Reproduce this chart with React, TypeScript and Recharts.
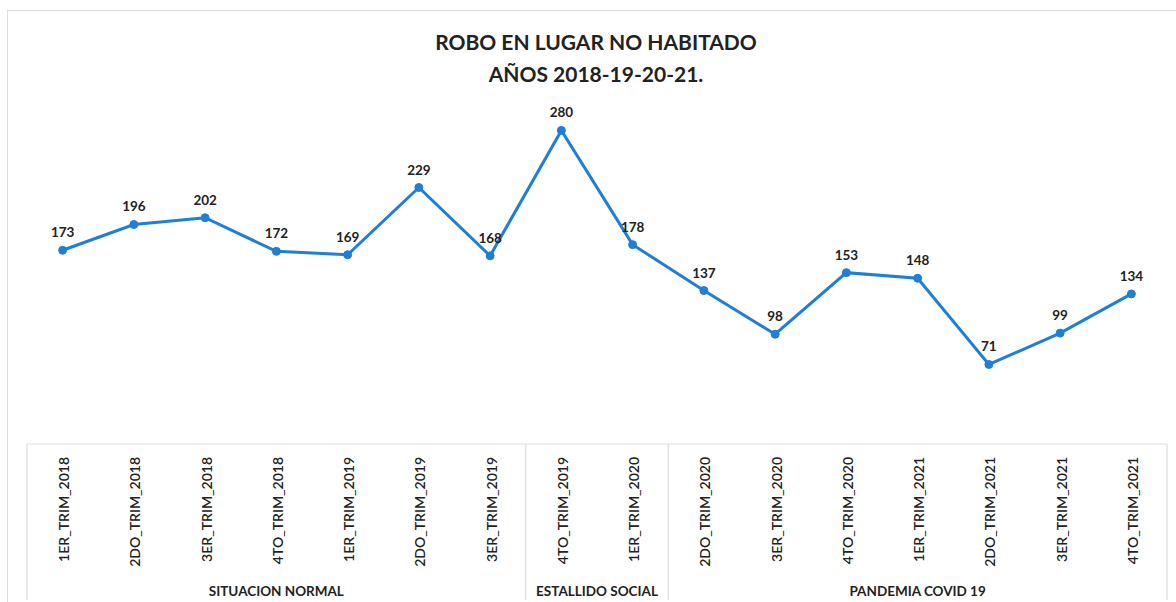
import React from "react";
import { LineChart, Line, XAxis, YAxis, LabelList } from "recharts";

const categories = [
  "1ER_TRIM_2018", "2DO_TRIM_2018", "3ER_TRIM_2018", "4TO_TRIM_2018",
  "1ER_TRIM_2019", "2DO_TRIM_2019", "3ER_TRIM_2019", "4TO_TRIM_2019",
  "1ER_TRIM_2020", "2DO_TRIM_2020", "3ER_TRIM_2020", "4TO_TRIM_2020",
  "1ER_TRIM_2021", "2DO_TRIM_2021", "3ER_TRIM_2021", "4TO_TRIM_2021",
];
const values = [173, 196, 202, 172, 169, 229, 168, 280, 178, 137, 98, 153, 148, 71, 99, 134];
const groups = [
  { label: "SITUACION NORMAL", start: 0, end: 6 },
  { label: "ESTALLIDO SOCIAL", start: 7, end: 8 },
  { label: "PANDEMIA COVID 19", start: 9, end: 15 },
];

const data = categories.map((c, i) => ({ name: c, value: values[i] }));

const W = 1176;
const H = 602;
const AXIS_H = 158;
const M = { top: 108, right: 9, left: 27, bottom: 0 };
const PLOT_W = W - M.left - M.right;
const STEP = PLOT_W / categories.length;
const AXIS_Y = H - AXIS_H;
const BOX_BOTTOM = 600;
const LINE_COLOR = "#1f7fd6";
const BORDER = "#d9dde3";
const FONT = "Lato, 'Open Sans', sans-serif";

const Tick = (props: any) => {
  const { x, payload } = props;
  const index = props.index ?? payload.index;
  const half = STEP / 2;
  const els: React.ReactNode[] = [];
  els.push(
    <text
      key="t"
      x={0}
      y={0}
      transform={`translate(${x + 1},${AXIS_Y + 13}) rotate(-90)`}
      textAnchor="end"
      dominantBaseline="central"
      fontFamily={FONT}
      fontSize={14}
      fontWeight={600}
      fill="#222"
    >
      {payload.value}
    </text>
  );
  groups.forEach((g, gi) => {
    if (g.start === index) {
      els.push(
        <line key={`l${gi}`} x1={x - half} x2={x - half} y1={AXIS_Y} y2={BOX_BOTTOM} stroke={BORDER} strokeWidth={1.2} />
      );
      els.push(
        <text
          key={`g${gi}`}
          x={x + ((g.end - g.start) * STEP) / 2}
          y={AXIS_Y + 152}
          textAnchor="middle"
          fontFamily={FONT}
          fontSize={13.5}
          fontWeight={700}
          fill="#222"
        >
          {g.label}
        </text>
      );
    }
    if (g.end === index && index === categories.length - 1) {
      els.push(
        <line key={`r${gi}`} x1={x + half} x2={x + half} y1={AXIS_Y} y2={BOX_BOTTOM} stroke={BORDER} strokeWidth={1.2} />
      );
    }
  });
  return <g>{els}</g>;
};

export default function App() {
  return (
    <div style={{ position: "absolute", left: 0, top: 0, width: W, height: H, background: "#fff" }}>
      <div
        style={{
          position: "absolute",
          left: 7,
          top: 10,
          width: W - 7,
          height: H - 10,
          border: `1px solid ${BORDER}`,
          borderRight: "none",
          borderBottom: "none",
          boxSizing: "border-box",
        }}
      />
      <LineChart width={W} height={H} data={data} margin={M} style={{ position: "absolute", left: 0, top: 0 }}>
        <text x={596} y={50} textAnchor="middle" fontFamily={FONT} fontSize={21} fontWeight={700} fill="#222">
          ROBO EN LUGAR NO HABITADO
        </text>
        <text x={596} y={82} textAnchor="middle" fontFamily={FONT} fontSize={21} fontWeight={700} fill="#222">
          AÑOS 2018-19-20-21.
        </text>
        <XAxis
          dataKey="name"
          interval={0}
          height={AXIS_H}
          padding={{ left: STEP / 2, right: STEP / 2 }}
          tickLine={false}
          axisLine={{ stroke: BORDER, strokeWidth: 1.2 }}
          tick={<Tick />}
        />
        <YAxis hide domain={[0, 300]} />
        <Line
          type="linear"
          dataKey="value"
          stroke={LINE_COLOR}
          strokeWidth={3}
          dot={{ r: 4, fill: LINE_COLOR, stroke: LINE_COLOR, strokeWidth: 1 }}
          isAnimationActive={false}
        >
          <LabelList
            dataKey="value"
            position="top"
            offset={13}
            fontFamily={FONT}
            fontSize={13.5}
            fontWeight={700}
            fill="#222"
          />
        </Line>
      </LineChart>
    </div>
  );
}
